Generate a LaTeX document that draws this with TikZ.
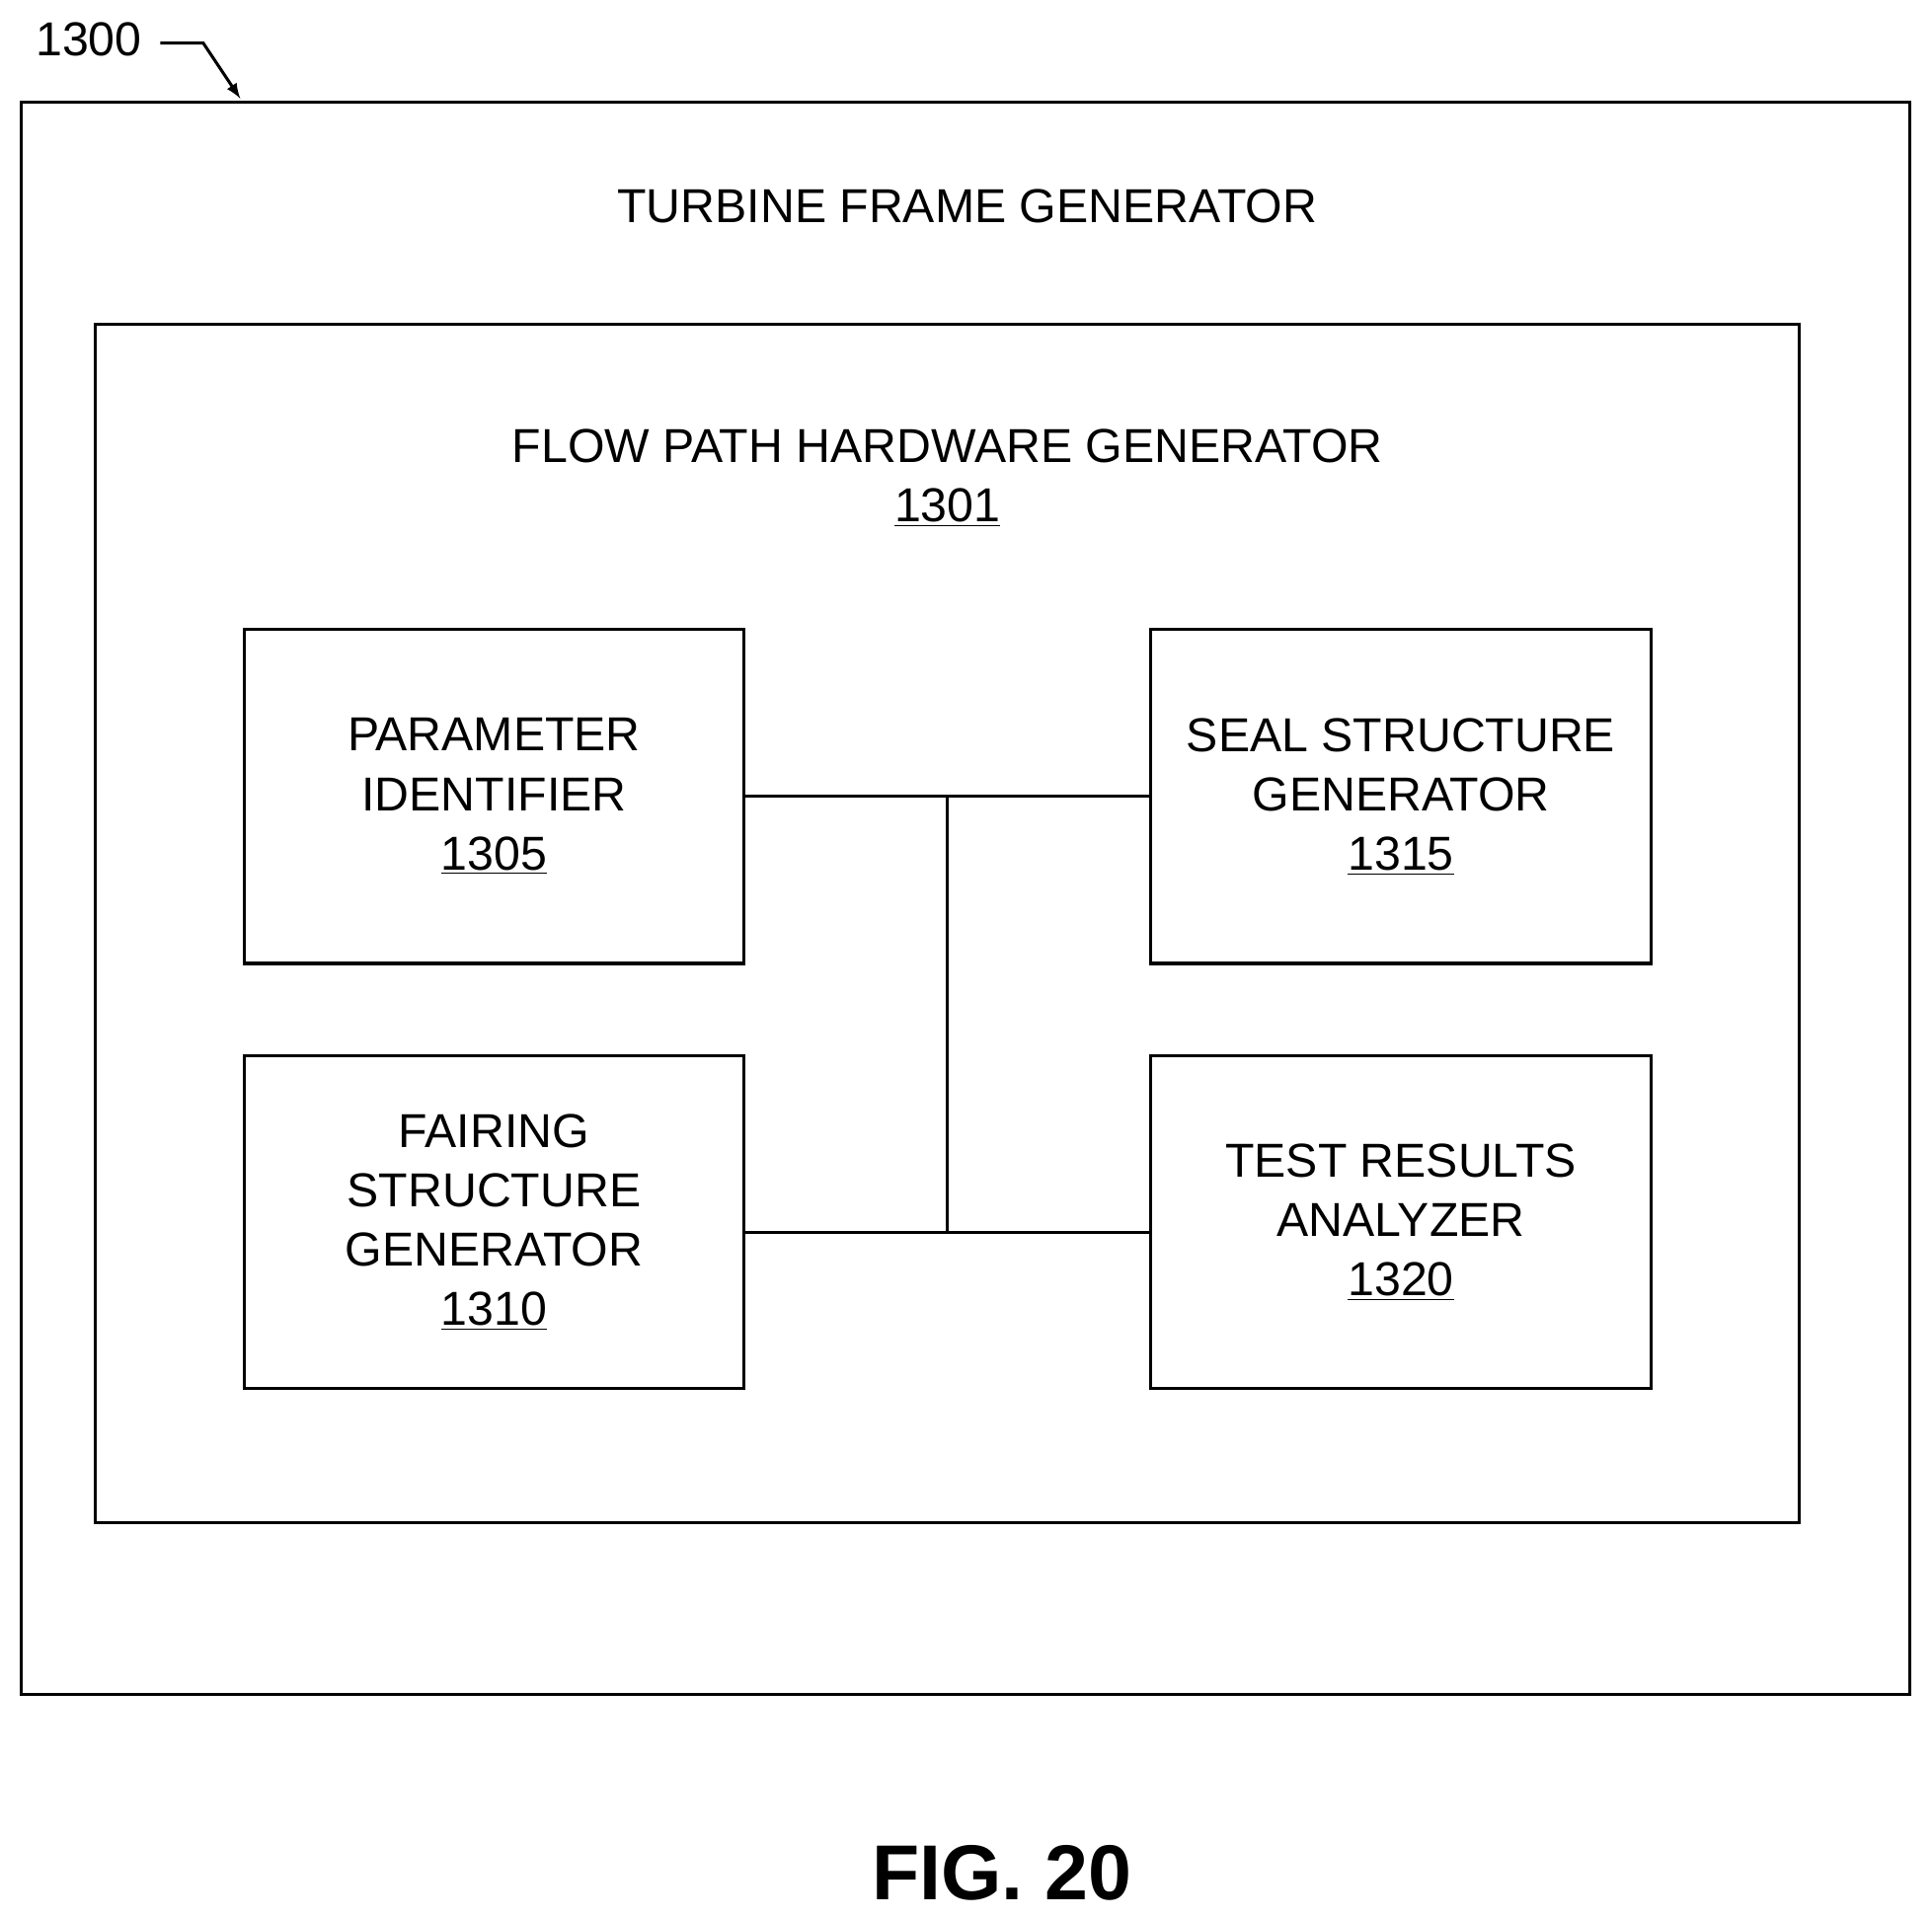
\documentclass[tikz,border=0pt]{standalone}
\usepackage{fontspec}
\setmainfont{Liberation Sans}
\begin{document}
\begin{tikzpicture}[x=0.02cm,y=-0.02cm,line width=1.4pt,
  box/.style={draw,line width=1.4pt},
  lbl/.style={font=\fontsize{22}{27.5}\selectfont,align=center},
  conn/.style={line width=1.4pt}]
\useasboundingbox (0,0) rectangle (1568,1557);
\draw[box] (17,83) rectangle (1550,1375);
\draw[box] (77,263) rectangle (1460,1236);
\node[lbl] (t1) at (785,167) {TURBINE FRAME GENERATOR};
\node[lbl] (t2) at (769,388) {FLOW PATH HARDWARE GENERATOR\\\underline{1301}};
\node[box,lbl,minimum width=406*0.02cm,minimum height=271*0.02cm] (pi) at (401,646.5) {PARAMETER\\IDENTIFIER\\\underline{1305}};
\node[box,lbl,minimum width=406*0.02cm,minimum height=271*0.02cm] (ss) at (1137,646.5) {SEAL STRUCTURE\\GENERATOR\\\underline{1315}};
\node[box,lbl,minimum width=406*0.02cm,minimum height=270*0.02cm] (fs) at (401,992) {FAIRING\\STRUCTURE\\GENERATOR\\\underline{1310}};
\node[box,lbl,minimum width=406*0.02cm,minimum height=270*0.02cm] (tr) at (1137,992) {TEST RESULTS\\ANALYZER\\\underline{1320}};
\coordinate (a) at (769,647);
\coordinate (b) at (769,1000);
\draw[conn] (pi.east) -- (ss.west);
\draw[conn] (fs.east|-b) -- (tr.west|-b);
\draw[conn] (a) -- (b);
\node[lbl,anchor=center] (n1300) at (72,32) {1300};
\coordinate (c1) at (130,35);
\coordinate (c2) at (165,35);
\coordinate (c3) at (195,80);
\draw[line width=1.4pt,-latex] (c1) -- (c2) -- (c3);
\node[font=\fontsize{36}{40}\bfseries\selectfont] (fig) at (813,1520) {FIG. 20};
\end{tikzpicture}
\end{document}
